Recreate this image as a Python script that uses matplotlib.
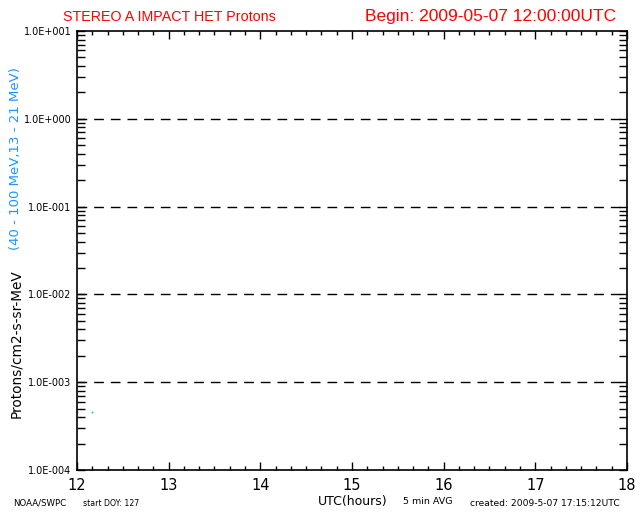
import matplotlib
matplotlib.use("Agg")
import matplotlib.pyplot as plt
from matplotlib.ticker import FixedLocator, LogLocator, NullFormatter
import numpy as np

# data
hours = [12.0, 12.167]
flux = [4.6e-4, 4.6e-4]
ref_levels = [1e0, 1e-1, 1e-2, 1e-3]
ytick_vals = [1e1, 1e0, 1e-1, 1e-2, 1e-3, 1e-4]
ytick_labels = ["1.0E+001", "1.0E+000", "1.0E-001", "1.0E-002", "1.0E-003", "1.0E-004"]
xtick_vals = [12, 13, 14, 15, 16, 17, 18]
xtick_labels = ["12", "13", "14", "15", "16", "17", "18"]

blue = "#1e96ff"
lib = ["Liberation Sans", "DejaVu Sans"]
fig = plt.figure(figsize=(6.4, 5.12), dpi=100)
ax = fig.add_axes([77/640, 1-470/512, 550/640, 439/512])
ax.set_yscale("log")
ax.set_xlim(12, 18)
ax.set_ylim(1e-4, 1e1)

for lvl in ref_levels:
    ax.axhline(lvl, color="black", lw=1.0, dashes=(7, 5))

ax.plot(hours, flux, ls="none", marker="s", ms=1.2, color=blue, mew=0)

ax.set_yticks(ytick_vals)
ax.set_yticklabels(ytick_labels, fontsize=7)
ax.yaxis.set_minor_locator(LogLocator(base=10, subs=np.arange(2, 10)))
ax.yaxis.set_minor_formatter(NullFormatter())
ax.set_xticks(xtick_vals)
ax.set_xticklabels(xtick_labels, fontsize=10.5)
ax.xaxis.set_minor_locator(FixedLocator(np.arange(12, 18.001, 1/6)))

ax.tick_params(axis="both", which="both", direction="in", top=True, right=True, width=1, color="black")
ax.tick_params(axis="x", which="major", length=6, pad=6)
ax.tick_params(axis="x", which="minor", length=3)
ax.tick_params(axis="y", which="major", length=6, pad=4)
ax.tick_params(axis="y", which="minor", length=6)
for s in ax.spines.values():
    s.set_linewidth(1.2)

fig.text(63/640, 1-17/512, "STEREO A IMPACT HET Protons", color="red", fontsize=10.3, va="center", ha="left", family=lib)
fig.text(616/640, 1-17/512, "Begin: 2009-05-07 12:00:00UTC", color="red", fontsize=12.5, va="center", ha="right", family=lib)

fig.text(16/640, 1-344/512, "Protons/cm2-s-sr-MeV", rotation=90, fontsize=9.8, va="center", ha="center")
fig.text(16/640, 1-159/512, "(40 - 100 MeV,13 - 21 MeV)", rotation=90, fontsize=9.5, va="center", ha="center", color=blue)

fig.text(13/640, 1-503/512, "NOAA/SWPC", fontsize=6.2, va="center", ha="left")
fig.text(83/640, 1-503/512, "start DOY: 127", fontsize=5.6, va="center", ha="left")
fig.text(318/640, 1-502/512, "UTC(hours)", fontsize=9, va="center", ha="left")
fig.text(403/640, 1-502/512, "5 min AVG", fontsize=6.8, va="center", ha="left")
fig.text(470/640, 1-503/512, "created: 2009-5-07 17:15:12UTC", fontsize=6.6, va="center", ha="left")

fig.savefig("out.png", dpi=100)
